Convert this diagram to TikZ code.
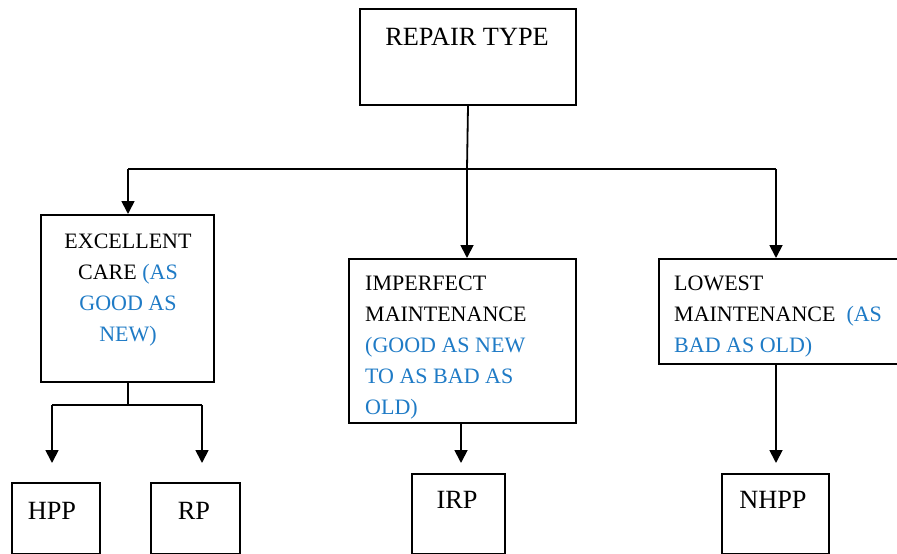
\documentclass[tikz,border=0pt]{standalone}
\usepackage{fontspec}
\setmainfont{Liberation Serif}
\usetikzlibrary{arrows.meta}
\definecolor{accentblue}{HTML}{1F7BC6}
\tikzset{
  box/.style={draw=black, line width=2pt, inner sep=0pt, anchor=north west},
  txt/.style={inner sep=0pt, font=\fontsize{22}{31}\selectfont},
  bigtxt/.style={inner sep=0pt, anchor=base, font=\fontsize{26.3}{30}\selectfont},
  conn/.style={line width=1.8pt},
  arr/.style={conn, -{Triangle[length=13pt,width=13pt]}},
}
\begin{document}
\begin{tikzpicture}[x=1pt,y=-1pt]
\useasboundingbox[fill=white] (0,0) rectangle (897,554);
% boxes
\node[box, minimum width=216pt, minimum height=96pt] (top) at (359,8) {};
\node[box, minimum width=173pt, minimum height=167pt] (care) at (40,214) {};
\node[box, minimum width=227pt, minimum height=164pt] (imp) at (348,258) {};
\node[box, minimum width=250pt, minimum height=105pt] (low) at (658,258) {};
\node[box, minimum width=88pt, minimum height=71pt] (hpp) at (11,482) {};
\node[box, minimum width=89pt, minimum height=71pt] (rp) at (150,482) {};
\node[box, minimum width=93pt, minimum height=80pt] (irp) at (411,473) {};
\node[box, minimum width=107pt, minimum height=80pt] (nhpp) at (721,473) {};
% texts (base anchor = baseline of last line)
\node[bigtxt] (toptxt) at (467,45) {REPAIR TYPE};
\node[txt, anchor=base, align=center] (caretxt) at (128,341) {EXCELLENT\\CARE {\color{accentblue}(AS}\\{\color{accentblue}GOOD AS}\\{\color{accentblue}NEW)}};
\node[txt, anchor=base west, align=left] (imptxt) at (365,414) {IMPERFECT\\MAINTENANCE\\{\color{accentblue}(GOOD AS NEW}\\{\color{accentblue}TO AS BAD AS}\\{\color{accentblue}OLD)}};
\node[txt, anchor=base west, align=left] (lowtxt) at (674,352) {LOWEST\\MAINTENANCE\ \ {\color{accentblue}(AS}\\{\color{accentblue}BAD AS OLD)}};
\node[bigtxt] (hpptxt) at (52,519) {HPP};
\node[bigtxt] (rptxt) at (194,519) {RP};
\node[bigtxt] (irptxt) at (457,508) {IRP};
\node[bigtxt] (nhpptxt) at (773,508) {NHPP};
% junctions
\coordinate (j) at (467,169);
\coordinate (jl) at (128,169);
\coordinate (jr) at (776,169);
\coordinate (k) at (128,405);
\coordinate (kl) at (52,405);
\coordinate (kr) at (202,405);
% connectors
\draw[conn] (top.south) -- (j);
\draw[conn] (jl) -- (jr);
\draw[arr] (j) -- (j |- imp.north);
\draw[arr] (jl) -- (jl |- care.north);
\draw[arr] (jr) -- (jr |- low.north);
\draw[conn] (k |- care.south) -- (k);
\draw[conn] (kl) -- (kr);
\draw[arr] (kl) -- ([yshift=19pt]kl |- hpp.north);
\draw[arr] (kr) -- ([yshift=19pt]kr |- rp.north);
\draw[arr] (461,0 |- imp.south) -- ([yshift=10pt]461,0 |- irp.north);
\draw[arr] (jr |- low.south) -- ([yshift=10pt]jr |- nhpp.north);
\end{tikzpicture}
\end{document}
